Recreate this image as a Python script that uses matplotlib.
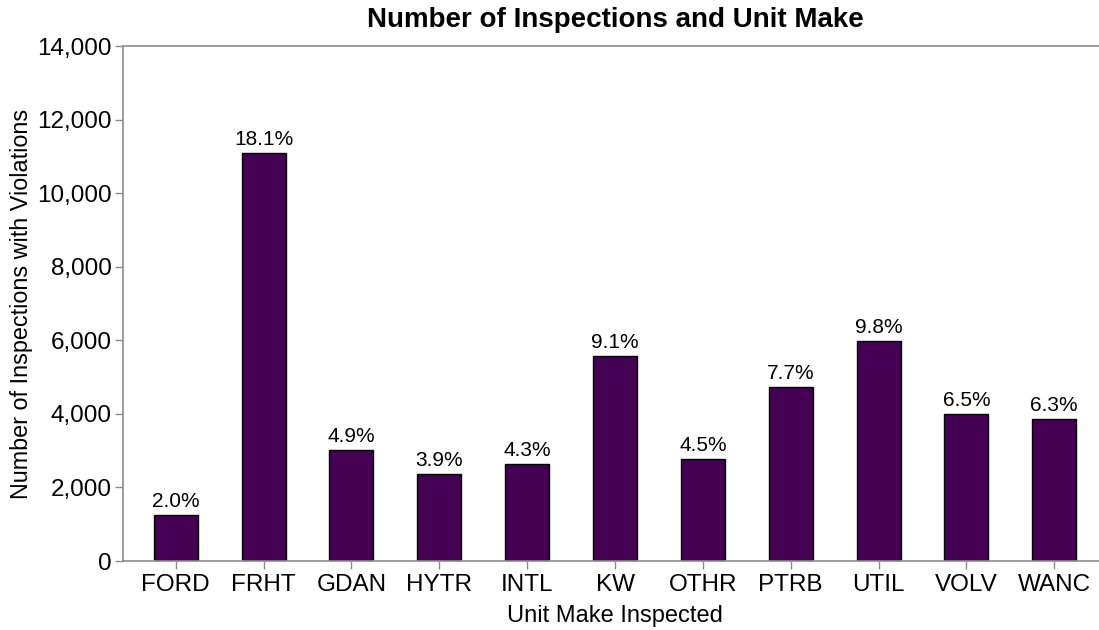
import matplotlib
matplotlib.use("Agg")
import matplotlib.pyplot as plt
from matplotlib.ticker import FuncFormatter

makes = ['FORD', 'FRHT', 'GDAN', 'HYTR', 'INTL', 'KW', 'OTHR', 'PTRB', 'UTIL', 'VOLV', 'WANC']
inspections = [1250, 11090, 3020, 2365, 2640, 5570, 2770, 4730, 5980, 4000, 3860]
pct_labels = ['2.0%', '18.1%', '4.9%', '3.9%', '4.3%', '9.1%', '4.5%', '7.7%', '9.8%', '6.5%', '6.3%']

plt.rcParams['font.family'] = ['Liberation Sans', 'DejaVu Sans']

fig = plt.figure(figsize=(10.99, 6.30), dpi=100)
# axes runs slightly past the right edge of the figure, as in the original
ax = fig.add_axes([123 / 1099, 1 - 561 / 630, (1107 - 123) / 1099, (561 - 46) / 630])

x = list(range(len(makes)))
bars = ax.bar(x, inspections, width=0.5, color='#440154', edgecolor='black', linewidth=1)

for b, lab in zip(bars, pct_labels):
    ax.annotate(lab, (b.get_x() + b.get_width() / 2, b.get_height()),
                xytext=(0, 3), textcoords='offset points',
                ha='center', va='bottom', fontsize=15)

ax.set_xlim(-0.6, 10.6)
ax.set_ylim(0, 14000)
ax.set_yticks(range(0, 14001, 2000))
ax.yaxis.set_major_formatter(FuncFormatter(lambda v, p: f'{int(v):,}'))
ax.set_xticks(x)
ax.set_xticklabels(makes)

for side in ['left', 'top', 'bottom']:
    ax.spines[side].set_color('#8c8c8c')
    ax.spines[side].set_linewidth(1.2)
ax.spines['right'].set_visible(False)
ax.tick_params(axis='both', colors='#8c8c8c', labelcolor='black', labelsize=17.5, length=6, width=1)
ax.tick_params(axis='y', pad=2)

ax.set_xlabel('Unit Make Inspected', fontsize=17, labelpad=6)
ax.set_ylabel('Number of Inspections with Violations', fontsize=16.8, labelpad=3)
ax.set_title('Number of Inspections and Unit Make', fontsize=20, fontweight='bold', pad=14)

plt.savefig('out.png', dpi=100)
